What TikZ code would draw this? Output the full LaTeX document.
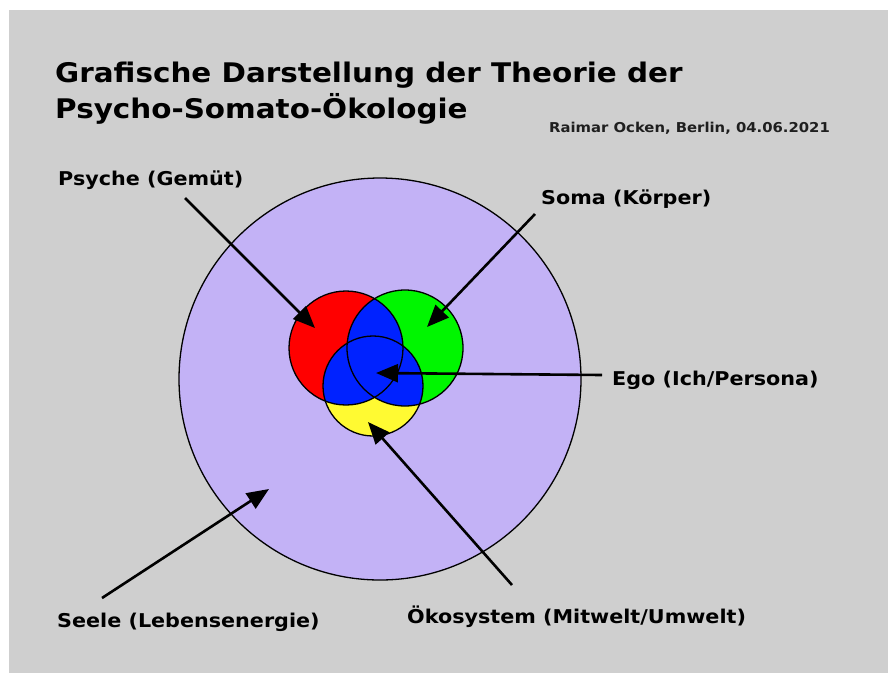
\documentclass[tikz,border=0pt]{standalone}
\usepackage{fontspec}
\setmainfont{DejaVu Sans}[FakeStretch=1.09]
\usetikzlibrary{calc,arrows.meta,positioning}
\definecolor{hgrau}{RGB}{207,207,207}
\definecolor{lila}{RGB}{195,178,246}
\definecolor{vrot}{RGB}{255,0,0}
\definecolor{vgruen}{RGB}{0,246,0}
\definecolor{vblau}{RGB}{0,34,255}
\definecolor{vgelb}{RGB}{255,250,50}

\begin{document}
\begin{tikzpicture}[x=1pt,y=-1pt,
    titel/.style={anchor=base west,inner sep=0pt,font=\bfseries\fontsize{27}{32}\selectfont},
    lbl/.style={anchor=base west,inner sep=0pt,font=\bfseries\fontsize{19}{22}\selectfont},
    pfeil/.style={line width=2.6pt,-{Triangle[length=22pt,width=18pt]}},
    ring/.style={line width=1.3pt}]
  \useasboundingbox (0,0) rectangle (888,673);
  \fill[hgrau] (9,10) rectangle (888,673);

  \coordinate (seele) at (380,379);
  \coordinate (psy) at (346,348);
  \coordinate (som) at (405,348);
  \coordinate (oko) at (373,386);

  % Kreise
  \draw[ring,fill=lila] (seele) circle[radius=201pt];
  \fill[vrot] (psy) circle[radius=57pt];
  \fill[vgruen] (som) circle[radius=58pt];
  \fill[vgelb] (oko) circle[radius=50pt];
  \begin{scope}
    \clip (psy) circle[radius=57pt];
    \fill[vblau] (som) circle[radius=58pt];
    \fill[vblau] (oko) circle[radius=50pt];
  \end{scope}
  \begin{scope}
    \clip (som) circle[radius=58pt];
    \fill[vblau] (oko) circle[radius=50pt];
  \end{scope}
  \draw[ring] (psy) circle[radius=57pt];
  \draw[ring] (som) circle[radius=58pt];
  \draw[ring] (oko) circle[radius=50pt];

  % Texte
  \node[titel] (t1) at (55,82) {Grafische Darstellung der Theorie der};
  \node[titel] (t2) at (55,118) {Psycho-Somato-Ökologie};
  \node[anchor=base west,inner sep=0pt,text=black!88,font=\bfseries\fontsize{13.6}{16}\selectfont] (autor) at (549,132) {Raimar Ocken, Berlin, 04.06.2021};

  \node[lbl] (lpsy) at (58,185) {Psyche (Gemüt)};
  \node[lbl] (lsom) at (541,204) {Soma (Körper)};
  \node[lbl] (lego) at (612,385) {Ego (Ich/Persona)};
  \node[lbl] (lsee) at (57,627) {Seele (Lebensenergie)};
  \node[lbl] (loko) at (407,623) {Ökosystem (Mitwelt/Umwelt)};

  % Pfeile
  \coordinate (a1) at (185,198);  \coordinate (e1) at (315,328);
  \coordinate (a2) at (535,214);  \coordinate (e2) at (427,327);
  \coordinate (a3) at (602,375);  \coordinate (e3) at (376,373);
  \coordinate (a4) at (512,585);  \coordinate (e4) at (368,422);
  \coordinate (a5) at (102,598);  \coordinate (e5) at (269,489);
  \foreach \i in {1,...,5}
    \draw[pfeil] (a\i) -- (e\i);
\end{tikzpicture}
\end{document}
